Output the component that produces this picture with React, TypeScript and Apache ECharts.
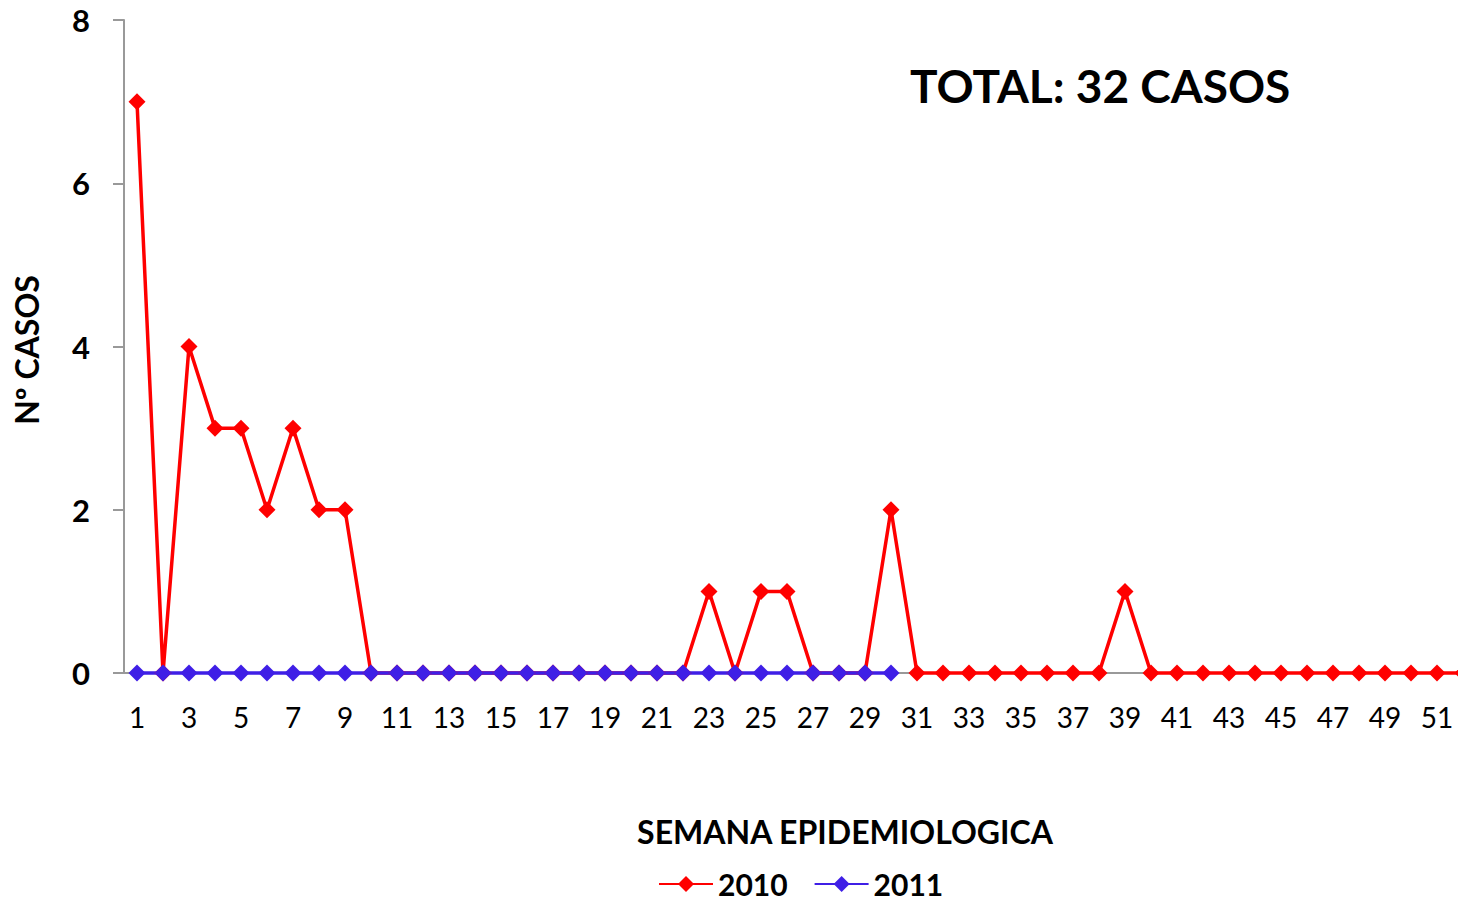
import React, { useEffect, useRef } from "react";
import * as echarts from "echarts";

const weeks: string[] = Array.from({ length: 52 }, (_, i) => String(i + 1));
const cases2010: number[] = [
  7, 0, 4, 3, 3, 2, 3, 2, 2, 0,
  0, 0, 0, 0, 0, 0, 0, 0, 0, 0,
  0, 0, 1, 0, 1, 1, 0, 0, 0, 2,
  0, 0, 0, 0, 0, 0, 0, 0, 1, 0,
  0, 0, 0, 0, 0, 0, 0, 0, 0, 0,
  0, 0,
];
const cases2011: number[] = [
  0, 0, 0, 0, 0, 0, 0, 0, 0, 0,
  0, 0, 0, 0, 0, 0, 0, 0, 0, 0,
  0, 0, 0, 0, 0, 0, 0, 0, 0, 0,
];
const seriesNames = ["2010", "2011"];
const titleText = "TOTAL: 32 CASOS";
const xAxisName = "SEMANA EPIDEMIOLOGICA";
const yAxisName = "Nº CASOS";

const FONT = "Lato, 'Noto Sans', sans-serif";

export default function App() {
  const ref = useRef<HTMLDivElement>(null);
  useEffect(() => {
    if (!ref.current) return;
    const chart = echarts.init(ref.current, undefined, { renderer: "svg" });
    chart.setOption({
      animation: false,
      textStyle: { fontFamily: FONT },
      grid: {
        left: 124,
        right: -18,
        top: 20,
        bottom: 230,
        containLabel: false,
        outerBoundsMode: "none",
      },
      graphic: [
        {
          type: "text",
          left: 910,
          top: 62,
          style: {
            text: titleText,
            fontFamily: FONT,
            fontWeight: "bold",
            fontSize: 46,
            fill: "#000",
          },
        },
        {
          type: "text",
          x: 845,
          y: 831,
          style: {
            text: xAxisName,
            fontFamily: FONT,
            fontWeight: "bold",
            fontSize: 32,
            fill: "#000",
            align: "center",
            verticalAlign: "middle",
          },
        },
        {
          type: "text",
          x: 26,
          y: 350,
          rotation: Math.PI / 2,
          style: {
            text: yAxisName,
            fontFamily: FONT,
            fontWeight: "bold",
            fontSize: 32,
            fill: "#000",
            align: "center",
            verticalAlign: "middle",
          },
        },
      ],
      legend: {
        top: 864,
        left: 653,
        itemWidth: 54,
        itemHeight: 20,
        itemGap: 26,
        textStyle: {
          fontFamily: FONT,
          fontWeight: "bold",
          fontSize: 30,
          lineHeight: 30,
          color: "#000",
        },
        data: seriesNames,
      },
      xAxis: {
        type: "category",
        data: weeks,
        boundaryGap: true,
        axisLine: { show: true, lineStyle: { color: "#999", width: 2 } },
        axisTick: { show: false },
        axisLabel: {
          interval: 1,
          margin: 30,
          fontFamily: FONT,
          fontSize: 28,
          color: "#000",
        },
        splitLine: { show: false },
      },
      yAxis: {
        type: "value",
        min: 0,
        max: 8,
        interval: 2,
        axisLine: { show: true, lineStyle: { color: "#999", width: 2 } },
        axisTick: { show: true, inside: false, length: 11, lineStyle: { color: "#999", width: 2 } },
        axisLabel: {
          margin: 34,
          fontFamily: FONT,
          fontWeight: "bold",
          fontSize: 31,
          color: "#000",
        },
        splitLine: { show: false },
      },
      series: [
        {
          name: seriesNames[0],
          type: "line",
          data: cases2010,
          symbol: "diamond",
          symbolSize: 17,
          lineStyle: { color: "#FF0000", width: 3.5 },
          itemStyle: { color: "#FF0000" },
          clip: false,
        },
        {
          name: seriesNames[1],
          type: "line",
          data: cases2011,
          symbol: "diamond",
          symbolSize: 17,
          lineStyle: { color: "#3F1FE6", width: 3.5 },
          itemStyle: { color: "#3F1FE6" },
          clip: false,
        },
      ],
    });
    return () => chart.dispose();
  }, []);
  return (
    <div
      ref={ref}
      style={{ position: "absolute", left: 0, top: 0, width: 1458, height: 903 }}
    />
  );
}
